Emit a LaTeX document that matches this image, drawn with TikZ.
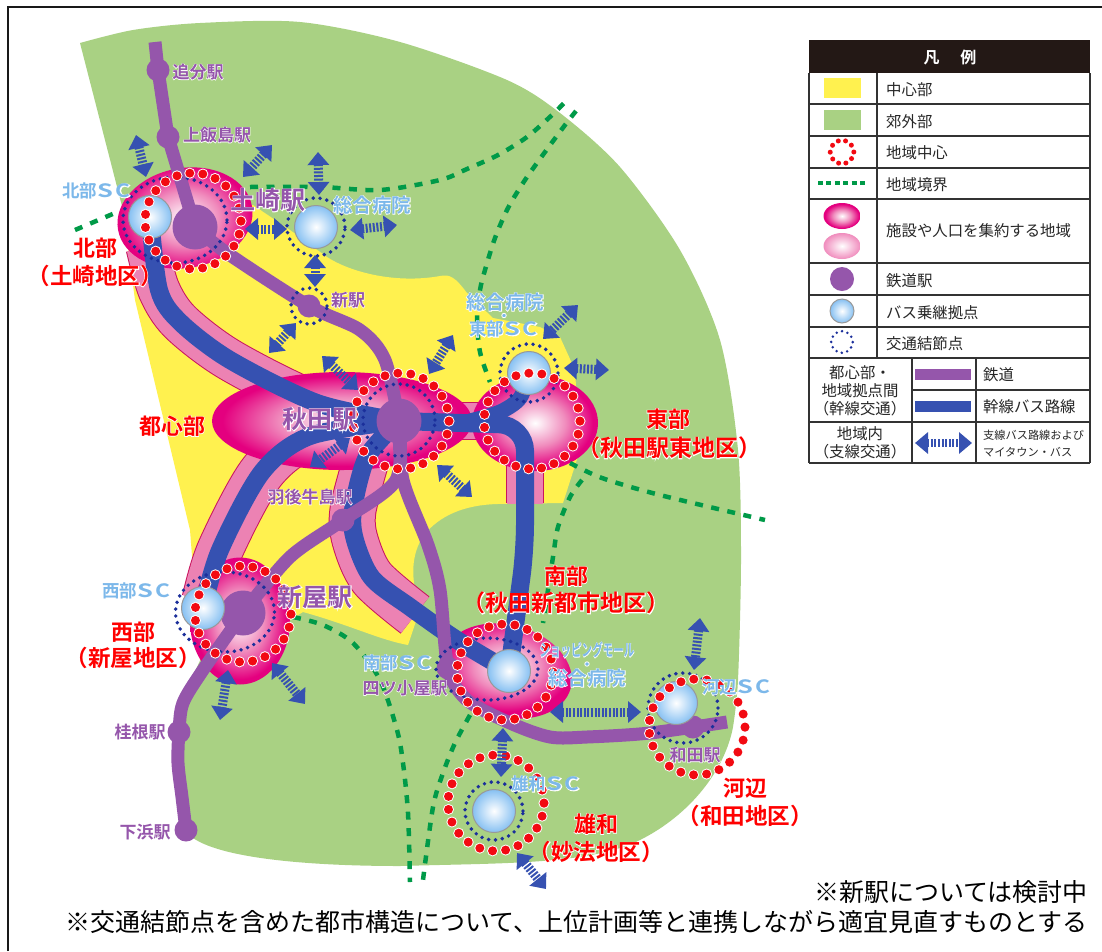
\documentclass[tikz,border=0pt]{standalone}
\usepackage{fontspec}
\usepackage{graphicx}
\setmainfont{Noto Sans CJK JP}
\newfontfamily\jpbold{Noto Sans CJK JP}[UprightFont={* Bold}]
\newfontfamily\halofont{Noto Sans CJK JP}[UprightFont={* Bold},FakeBold=5]
\usetikzlibrary{arrows.meta,shapes.geometric}
\definecolor{suburb}{HTML}{A9D183}
\definecolor{centre}{HTML}{FFF14F}
\definecolor{railcol}{HTML}{9556AB}
\definecolor{buscol}{HTML}{3651B1}
\definecolor{reddot}{HTML}{F20A12}
\definecolor{hubblue}{HTML}{7CB8EA}
\definecolor{regmag}{HTML}{E4007F}
\definecolor{regmid}{HTML}{F08CBD}
\definecolor{corpink}{HTML}{EC82B3}
\definecolor{coredge}{HTML}{C9155F}
\definecolor{linkdot}{HTML}{1B2F9B}
\definecolor{bordgreen}{HTML}{009A48}
\definecolor{ballblue}{HTML}{86C0F2}
\definecolor{legbar}{HTML}{231815}
\pgfdeclareradialshading{regionglow}{\pgfpoint{0bp}{0bp}}{color(0bp)=(white); color(12bp)=(regmid); color(23bp)=(regmag); color(50bp)=(regmag)}
\pgfdeclareradialshading{regionsoft}{\pgfpoint{0bp}{0bp}}{color(0bp)=(white); color(25bp)=(regmid); color(50bp)=(regmid)}
\pgfdeclareradialshading{hubglow}{\pgfpoint{0bp}{0bp}}{color(0bp)=(white); color(25bp)=(ballblue); color(50bp)=(ballblue)}
\newcommand{\halo}[1]{\leavevmode\rlap{\halofont\color{white}#1}#1}
\newcommand{\fs}[1]{\fontsize{#1}{#1}\selectfont}
\newcommand{\sclet}{\makebox[1em]{\scalebox{1.45}[1.05]{S}}\makebox[1em]{\scalebox{1.3}[1.05]{C}}}
\tikzset{
    regionblob/.style={ellipse, inner sep=0pt, shading=regionglow},
    hubball/.style={circle, inner sep=0pt, minimum size=43pt, shading=hubglow, draw=gray!80, line width=1pt},
    stnbig/.style={circle, inner sep=0pt, minimum size=45pt, fill=railcol},
    stnsmall/.style={circle, inner sep=0pt, minimum size=23pt, fill=railcol},
    railline/.style={draw=railcol, line width=13pt},
    busline/.style={draw=buscol, line width=18pt},
    reddots/.style={draw=reddot, line width=9pt, line cap=round, dash pattern=on 0pt off 13.1pt},
    redhalo/.style={draw=white, line width=11pt, line cap=round, dash pattern=on 0pt off 13.1pt},
    linkring/.style={draw=linkdot, line width=3.9pt, line cap=round, dash pattern=on 0pt off 6.9pt},
    boundary/.style={draw=bordgreen, line width=4.5pt, dash pattern=on 8pt off 8.5pt},
    branchbus/.style={draw=buscol, line width=9pt, dash pattern=on 2pt off 1.6pt,
        {Triangle[length=13pt,width=21pt]}-{Triangle[length=13pt,width=21pt]}},
    redlabel/.style={text=red, inner sep=0pt, font=\jpbold\fs{#1}},
    redlabel/.default=22,
    stnlabel/.style={text=railcol, inner sep=0pt, font=\jpbold\fs{#1}},
    stnlabel/.default=17,
    hublabel/.style={text=hubblue, inner sep=0pt, font=\jpbold\fs{#1}},
    hublabel/.default=17.5,
    hubdot/.style={circle, inner sep=0pt, minimum size=4.5pt, fill=hubblue, draw=white, line width=.8pt},
    legtext/.style={anchor=west, inner sep=0pt, text=black!85, font=\fs{15.4}},
    legmid/.style={inner sep=0pt, text=black!85, font=\fs{15.4}, align=center},
    note/.style={anchor=east, inner sep=0pt, text=black, font=\fs{25}},
}
\newcommand{\corridor}[2][43]{
    \draw [draw=coredge, line width=#1pt] plot[smooth] coordinates {#2};
    \draw [draw=corpink, line width=#1pt-2pt] plot[smooth] coordinates {#2};
}
\newcommand{\redring}[2]{
    \draw [redhalo] (#1,#2) circle [radius=48pt];
    \draw [reddots] (#1,#2) circle [radius=48pt];
}
\begin{document}
\begin{tikzpicture}[x=1pt,y=-1pt]
    \useasboundingbox (0,0) rectangle (1102,951);
    \fill [white] (0,0) rectangle (1102,951);
    \draw [line width=2pt, black!90] (8,951)--(8,7)--(1102,7);

    % land
    \fill [suburb] (80,43) -- plot[smooth] coordinates {(80,43) (133,30) (200,23) (300,22) (400,42) (507,80) (560,113) (620,167) (680,250) (720,340) (738,450) (741,560) (738,680) (733,727)}
        .. controls (725,770) and (690,815) .. (640,840)
        .. controls (590,865) and (500,863) .. (400,866)
        .. controls (320,866) and (225,860) .. (193,838)
        -- (178,760) -- (183,697) -- (205,650) -- (195,550) -- (123,210) -- cycle;
    \fill [centre] (123,210) -- (253,205) -- (290,230) -- (327,257)
        .. controls (350,272) and (395,284) .. (440,276)
        .. controls (450,274) and (455,277) .. (467,293)
        -- (493,318) -- (540,327) -- (560,337) -- (575,370) -- (580,450) -- (563,503)
        -- (497,504) .. controls (465,505) and (440,515) .. (424,535)
        .. controls (410,555) and (412,580) .. (417,597) -- (418,615) -- (408,645)
        .. controls (380,640) and (350,625) .. (303,612) -- (290,620) -- (200,660) -- (190,530) -- (135,300) -- cycle;

    % corridors
    \corridor{(147,247) (159,290) (180,322) (230,360) (317,403) (399,421)}
    \corridor[47]{(205,600) (220,550) (262,472) (310,436) (399,421)}
    \corridor[47]{(367,457) (353,510) (355,540) (372,578) (415,615)}
    \draw [draw=coredge, line width=38pt] (525,450)--(525,503);
    \draw [draw=corpink, line width=36pt] (525,450)--(525,503.5);
    \draw [draw=coredge, line width=38pt] (450,421)--(500,421);
    \draw [draw=corpink, line width=36pt] (450,421)--(500,421);

    % regions
    \node [regionblob, minimum width=260pt, minimum height=98pt] (regCentre) at (342,421) {};
    \node [regionblob, minimum width=126pt, minimum height=96pt] (regEast) at (535,423) {};
    \node [regionblob, minimum width=136pt, minimum height=100pt, rotate=10] (regNorth) at (185,218) {};
    \node [regionblob, minimum width=100pt, minimum height=127pt] (regWest) at (240,621) {};
    \node [regionblob, minimum width=132pt, minimum height=92pt, rotate=-15] (regSouth) at (507,671) {};

    % trunk bus lines
    \coordinate (hubN) at (150,217);
    \coordinate (hubW) at (203,608);
    \coordinate (hubS) at (509,671);
    \coordinate (hubE) at (529,373);
    \coordinate (akitaPt) at (399,421);
    \draw [busline] plot[smooth] coordinates {(hubN) (159,290) (180,322) (230,360) (317,403) (akitaPt)};
    \draw [busline] plot[smooth] coordinates {(hubW) (220,550) (262,472) (310,436) (akitaPt)};
    \draw [busline] plot[smooth] coordinates {(akitaPt) (367,457) (353,510) (355,540) (372,578) (410,607) (457,640) (hubS)};
    \draw [busline, rounded corners=26pt] (akitaPt) -- (525,425) -- (525,550) -- (hubS);
    \draw [busline, line width=15pt] plot[smooth] coordinates {(470,421) (500,412) (520,398) (hubE)};

    % stations
    \node [stnsmall] (stnOiwake) at (158,70) {};
    \node [stnsmall] (stnKamiiijima) at (168,137) {};
    \node [stnbig] (stnTsuchizaki) at (195,227) {};
    \node [stnsmall] (stnNew) at (309,306) {};
    \node [stnbig] (stnAkita) at (akitaPt) {};
    \node [stnsmall] (stnUshijima) at (343,520) {};
    \node [stnbig] (stnAraya) at (243,613) {};
    \node [stnsmall] (stnKatsurane) at (179,732) {};
    \node [stnsmall] (stnShimohama) at (186,830) {};
    \node [stnsmall] (stnYotsugoya) at (448,668) {};
    \node [stnsmall] (stnWada) at (693,727) {};
    \coordinate (railNorthEnd) at (155,42);
    \coordinate (railEastEnd) at (727,722);

    % railway
    \draw [railline] (railNorthEnd) -- (stnOiwake.center) -- (stnKamiiijima.center) -- (stnTsuchizaki.center);
    \draw [railline] plot[smooth] coordinates {(stnTsuchizaki.center) (227,253) (stnNew.center) (360,330) (385,360) (stnAkita.center)};
    \draw [railline] plot[smooth] coordinates {(stnAkita.center) (396,480) (stnUshijima.center) (290,557) (stnAraya.center)};
    \draw [railline] plot[smooth] coordinates {(stnAkita.center) (403,480) (428,545) (440,590) (stnYotsugoya.center) (467,700) (510,723) (550,737) (587,737) (650,733) (railEastEnd)};
    \draw [railline] plot[smooth] coordinates {(stnAraya.center) (203,670) (183,703) (stnKatsurane.center) (178,763) (182,797) (stnShimohama.center)};

    % region boundaries
    \draw [boundary] (75,230) -- (115,213);
    \draw [boundary] plot[smooth] coordinates {(250,187) (320,187) (380,190) (440,180) (467,169) (498,155) (527,137) (552,115) (565,102)};
    \draw [boundary] plot[smooth] coordinates {(576,111) (565,125) (545,152) (525,180) (508,208) (495,238) (485,270) (480,290) (477,318) (480,352) (490,382)};
    \draw [boundary] plot[smooth] coordinates {(570,463) (602,478) (660,495) (765,520)};
    \draw [boundary] plot[smooth] coordinates {(582,480) (570,497) (558,527) (553,557) (543,623)};
    \draw [boundary] plot[smooth] coordinates {(470,715) (455,743) (443,773) (433,807) (423,880)};
    \draw [boundary] plot[smooth] coordinates {(293,617) (323,625) (353,643) (380,680) (397,730) (403,763) (408,813) (410,882)};

    % hubs on top of lines
    \node [hubball] (ballN) at (hubN) {};
    \node [hubball] (ballW) at (hubW) {};
    \node [hubball] (ballS) at (hubS) {};
    \node [hubball] (ballE) at (hubE) {};
    \node [hubball] (ballHospital) at (316,227) {};
    \node [hubball] (ballKawabe) at (676,703) {};
    \node [hubball] (ballYuwa) at (494,811) {};

    % interchange rings
    \draw [linkring] (175,220) ellipse [x radius=52pt, y radius=43pt];
    \draw [linkring] (ballHospital) circle [radius=29pt];
    \draw [linkring] (stnNew) circle [radius=18pt];
    \draw [linkring] (399,420) circle [radius=36pt];
    \draw [linkring] (ballE) circle [radius=29pt];
    \draw [linkring] (225,612) ellipse [x radius=49.5pt, y radius=40pt];
    \draw [linkring] (487,669) ellipse [x radius=51pt, y radius=31pt];
    \draw [linkring] (683,708) circle [radius=35pt];
    \draw [linkring] (ballYuwa) circle [radius=29pt];

    % region centres
    \redring{193}{221}
    \redring{401}{421}
    \redring{532}{421}
    \redring{243}{614}
    \redring{505}{672}
    \redring{697}{727}
    \redring{496}{803}

    % branch buses
    \foreach \ax/\ay/\bx/\by [count=\n] in {136/135/146/177, 272/145/243/177, 318/152/319/195, 245/229/287/229,
        350/230/397/225, 315/255/315/287, 296/323/269/353, 322/356/358/390, 453/335/429/374, 578/305/543/339,
        564/368/609/370, 350/438/310/467, 437/465/472/497, 228/670/220/720, 272/663/305/704, 550/712/641/712,
        700/618/694/670, 503/728/501/777, 517/853/546/889} {
        \coordinate (branch\n a) at (\ax,\ay);
        \coordinate (branch\n b) at (\bx,\by);
        \draw [branchbus] (branch\n a) -- (branch\n b);
    }

    % labels
    \node [stnlabel] (lblOiwake) at (198,72) {\halo{追分駅}};
    \node [stnlabel] (lblKamiiijima) at (217,135) {\halo{上飯島駅}};
    \node [stnlabel=25] (lblTsuchizaki) at (268,200) {\halo{土崎駅}};
    \node [stnlabel] (lblNew) at (348,300) {\halo{新駅}};
    \node [stnlabel=25] (lblAkita) at (320,419) {\halo{秋田駅}};
    \node [stnlabel] (lblUshijima) at (310,497) {\halo{羽後牛島駅}};
    \node [stnlabel=25] (lblAraya) at (315,597) {\halo{新屋駅}};
    \node [stnlabel] (lblKatsurane) at (140,732) {\halo{桂根駅}};
    \node [stnlabel] (lblShimohama) at (145,832) {\halo{下浜駅}};
    \node [stnlabel] (lblYotsugoya) at (405,688) {\halo{四ツ小屋駅}};
    \node [stnlabel] (lblWada) at (695,755) {\halo{和田駅}};

    \node [hublabel] (lblNorthSC) at (97,191) {\halo{北部\sclet}};
    \node [hublabel=19.5] (lblHospitalN) at (372,205) {\halo{総合病院}};
    \node [hublabel=19.5] (lblHospitalE) at (505,302) {\halo{総合病院}};
    \node [hubdot] (dotE) at (504,315.5) {};
    \node [hublabel] (lblEastSC) at (504,329) {\halo{東部\sclet}};
    \node [hublabel] (lblWestSC) at (137,591) {\halo{西部\sclet}};
    \node [hublabel] (lblSouthSC) at (398,663) {\halo{南部\sclet}};
    \node [hublabel=17] (lblMall) at (587,650) {\scalebox{.62}[1]{\halo{ショッピングモール}}};
    \node [hubdot] (dotS) at (587,664) {};
    \node [hublabel=19.5] (lblHospitalS) at (587,678) {\halo{総合病院}};
    \node [hublabel] (lblKawabeSC) at (737,687) {\halo{河辺\sclet}};
    \node [hublabel] (lblYuwaSC) at (546,784) {\halo{雄和\sclet}};

    \node [redlabel] (lblCentre) at (172,426) {\halo{都心部}};
    \node [redlabel] (lblNorth) at (95,248) {\halo{北部}};
    \node [redlabel=22.5] (lblNorth2) at (95,276) {\halo{（土崎地区）}};
    \node [redlabel] (lblEast) at (668,419) {\halo{東部}};
    \node [redlabel=23] (lblEast2) at (669,448) {\halo{（秋田駅東地区）}};
    \node [redlabel] (lblSouth) at (566,576) {\halo{南部}};
    \node [redlabel=23] (lblSouth2) at (566,603) {\halo{（秋田新都市地区）}};
    \node [redlabel] (lblWest) at (133,632) {\halo{西部}};
    \node [redlabel=22.5] (lblWest2) at (133,658) {\halo{（新屋地区）}};
    \node [redlabel] (lblKawabe) at (745,788) {\halo{河辺}};
    \node [redlabel=22.5] (lblKawabe2) at (745,816) {\halo{（和田地区）}};
    \node [redlabel] (lblYuwa) at (596,824) {\halo{雄和}};
    \node [redlabel=22.5] (lblYuwa2) at (596,852) {\halo{（妙法地区）}};

    % legend
    \fill [white] (809,41) rectangle (1090,463);
    \fill [legbar] (809,40) rectangle (1090,73);
    \node [inner sep=0pt, text=white, font=\jpbold\fs{16}] (legTitle) at (950,57) {凡\hspace{1.3em}例};
    \foreach \ly in {104,136,168,199,263,295,327,358,422,463}
        \draw [black!80, line width=1.4pt] (809,\ly)--(1090,\ly);
    \draw [black!80, line width=1.4pt] (912,390)--(1090,390);
    \draw [black!80, line width=1.4pt] (809,73)--(809,463);
    \draw [black!80, line width=1.4pt] (1090,73)--(1090,463);
    \draw [black!80, line width=1.4pt] (877,73)--(877,358);
    \draw [black!80, line width=1.4pt] (912,358)--(912,463);
    \draw [black!80, line width=1.4pt] (976,358)--(976,463);

    \fill [centre] (824,78) rectangle (861,98);
    \fill [suburb] (824,110) rectangle (861,130);
    \draw [draw=reddot, line width=5pt, line cap=round, dash pattern=on 0pt off 7.4pt] (842,152) circle [radius=11.8pt];
    \draw [boundary, line width=3.5pt, dash pattern=on 5pt off 3.4pt] (818,183)--(865,183);
    \node [regionblob, minimum width=37pt, minimum height=26pt] (legRegion) at (842,216) {};
    \node [ellipse, inner sep=0pt, shading=regionsoft, minimum width=37pt, minimum height=26pt] (legRegionSoft) at (842,246) {};
    \node [stnsmall, minimum size=24pt] (legStation) at (842,279) {};
    \node [hubball, minimum size=24pt] (legHub) at (842,311) {};
    \draw [linkring, line width=2.8pt, dash pattern=on 0pt off 5.6pt] (842,342) circle [radius=10.8pt];
    \fill [railcol] (915,369) rectangle (971,380);
    \fill [buscol] (915,401) rectangle (971,412);
    \coordinate (legArrowA) at (915,443);
    \coordinate (legArrowB) at (972,443);
    \draw [branchbus, line width=8pt] (legArrowA) -- (legArrowB);

    \foreach \ry/\rtext [count=\n] in {90/中心部, 122/郊外部, 153/地域中心, 185/地域境界, 231/施設や人口を集約する地域, 281/鉄道駅, 313/バス乗継拠点, 344/交通結節点}
        \node [legtext] (legRow\n) at (886,\ry) {\rtext};
    \node [legmid] (legTrunk1) at (860,373) {都心部・};
    \node [legmid] (legTrunk2) at (860,391) {地域拠点間};
    \node [legmid] (legTrunk3) at (860,409) {（幹線交通）};
    \node [legmid] (legLocal1) at (860,434) {地域内};
    \node [legmid] (legLocal2) at (860,452) {（支線交通）};
    \node [legtext] (legRail) at (983,375) {鉄道};
    \node [legtext] (legBus) at (983,407) {幹線バス路線};
    \node [legtext, font=\fs{11.2}] (legBranch1) at (983,435) {支線バス路線および};
    \node [legtext, font=\fs{11.2}] (legBranch2) at (983,452) {マイタウン・バス};

    % notes
    \node [note] (noteNew) at (1088,892) {※新駅については検討中};
    \node [note] (noteReview) at (1088,922) {※交通結節点を含めた都市構造について、上位計画等と連携しながら適宜見直すものとする};
\end{tikzpicture}
\end{document}
